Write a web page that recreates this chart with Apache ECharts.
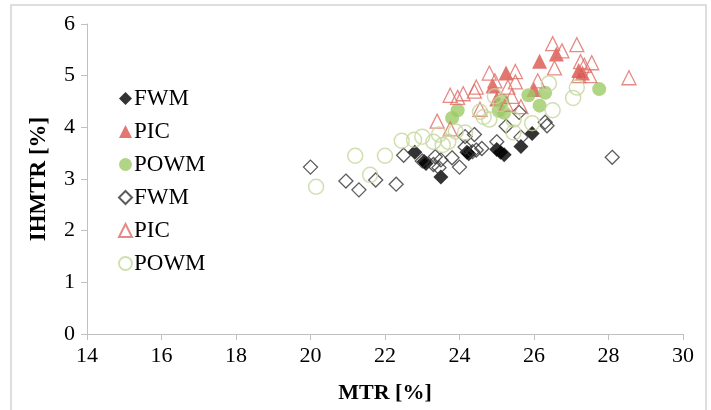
<!DOCTYPE html>
<html>
<head>
<meta charset="utf-8">
<script src="https://cdn.jsdelivr.net/npm/echarts@6/dist/echarts.min.js"></script>
<style>html,body{margin:0;padding:0;background:#fff}#c{width:711px;height:410px}</style>
</head>
<body>
<div id="c"></div>
<script>
// Data: [MTR %, IHMTR %]
var fwmFilled = [[22.8,3.52],[23.05,3.34],[23.1,3.30],[23.5,3.04],[24.2,3.52],[24.25,3.49],[25.0,3.57],[25.1,3.52],[25.2,3.47],[25.65,3.63],[25.95,3.88]];
var picFilled = [[24.9,4.8],[25.0,4.55],[25.25,5.05],[26.0,4.73],[26.15,5.28],[26.6,5.42],[27.2,5.1],[27.3,5.05]];
var powmFilled = [[23.8,4.18],[23.95,4.33],[25.05,4.32],[25.15,4.52],[25.2,4.28],[25.85,4.62],[26.15,4.42],[26.3,4.67],[27.75,4.74]];
var fwmHollow = [[20.0,3.23],[20.95,2.96],[21.3,2.79],[21.75,2.98],[22.3,2.9],[22.5,3.46],[23.0,3.35],[23.3,3.28],[23.35,3.43],[23.45,3.22],[23.5,3.37],[23.8,3.41],[24.0,3.23],[24.15,3.82],[24.15,3.62],[24.35,3.53],[24.4,3.86],[24.45,3.56],[24.6,3.59],[25.0,3.72],[25.25,4.02],[25.6,4.29],[25.65,3.81],[26.3,4.1],[26.35,4.03],[28.1,3.42]];
var picHollow = [[23.4,4.12],[23.75,4.62],[23.75,3.97],[23.95,4.58],[24.1,4.65],[24.4,4.7],[24.45,4.78],[24.55,4.35],[24.8,5.05],[24.95,4.9],[25.3,4.78],[25.5,5.08],[25.5,4.88],[25.4,4.6],[25.25,4.45],[25.65,4.4],[26.1,4.9],[26.5,5.62],[26.75,5.48],[26.55,5.15],[27.15,5.6],[27.25,5.27],[27.35,5.2],[27.55,5.25],[27.2,5.0],[27.5,5.0],[28.55,4.96]];
var powmHollow = [[20.15,2.85],[21.2,3.45],[21.6,3.08],[22.0,3.45],[22.45,3.74],[22.78,3.76],[23.0,3.82],[23.3,3.72],[23.45,3.86],[23.55,3.66],[23.7,3.72],[23.9,3.92],[24.15,3.9],[24.55,4.3],[24.65,4.2],[24.8,4.15],[24.95,4.6],[25.1,4.45],[25.45,4.15],[25.45,3.9],[25.95,4.08],[26.4,4.85],[26.5,4.33],[27.05,4.57],[27.15,4.77]];
var xTicks = {min: 14, max: 30, interval: 2};
var yTicks = {min: 0, max: 6, interval: 1};
var seriesNames = ['FWM', 'PIC', 'POWM', 'FWM ', 'PIC ', 'POWM '];

var font = '"Liberation Serif", "Times New Roman", serif';
var chart = echarts.init(document.getElementById('c'), null, {renderer: 'canvas'});
var axisGray = '#c0c0c0';
function sc(name, data, symbol, size, style, z) {
  return {type: 'scatter', name: name, data: data, symbol: symbol, symbolSize: size,
    itemStyle: style, z: z, emphasis: {disabled: true}, animation: false};
}
chart.setOption({
  animation: false,
  graphic: [{type: 'rect', shape: {x: 11, y: 5, width: 695, height: 420},
    style: {fill: 'none', stroke: '#d3d3d3', lineWidth: 1.5}, silent: true}],
  grid: {left: 87, right: 28, top: 24, bottom: 76},
  legend: {
    orient: 'vertical', left: 113, top: 82, itemGap: 10, itemWidth: 13, itemHeight: 13,
    data: seriesNames,
    textStyle: {fontFamily: font, fontSize: 23, color: '#000', padding: [0, 0, 0, -3]}
  },
  xAxis: {
    type: 'value', min: xTicks.min, max: xTicks.max, interval: xTicks.interval,
    name: 'MTR [%]', nameLocation: 'middle', nameGap: 48,
    nameTextStyle: {fontFamily: font, fontSize: 22, fontWeight: 'bold', color: '#000'},
    axisLine: {show: true, lineStyle: {color: axisGray, width: 1}},
    axisTick: {show: true, inside: false, length: 6, lineStyle: {color: axisGray}},
    axisLabel: {fontFamily: font, fontSize: 22, color: '#000', margin: 11},
    splitLine: {show: false}
  },
  yAxis: {
    type: 'value', min: yTicks.min, max: yTicks.max, interval: yTicks.interval,
    name: 'IHMTR [%]', nameLocation: 'middle', nameGap: 36,
    nameTextStyle: {fontFamily: font, fontSize: 23, fontWeight: 'bold', color: '#000'},
    axisLine: {show: true, lineStyle: {color: axisGray, width: 1}},
    axisTick: {show: true, inside: false, length: 6, lineStyle: {color: axisGray}},
    axisLabel: {fontFamily: font, fontSize: 22, color: '#000', margin: 12},
    splitLine: {show: false}
  },
  series: [
    sc(seriesNames[0], fwmFilled, 'diamond', 15, {color: '#000000'}, 2),
    sc(seriesNames[1], picFilled, 'triangle', 15, {color: '#d9554c'}, 2),
    sc(seriesNames[2], powmFilled, 'circle', 14, {color: '#9ccb66'}, 2),
    sc(seriesNames[3], fwmHollow, 'diamond', 14, {color: 'rgba(255,255,255,0)', borderColor: '#333333', borderWidth: 1.3}, 3),
    sc(seriesNames[4], picHollow, 'triangle', 14, {color: 'rgba(255,255,255,0)', borderColor: '#df6d67', borderWidth: 1.3}, 3),
    sc(seriesNames[5], powmHollow, 'circle', 15, {color: 'rgba(255,255,255,0)', borderColor: '#c5d79c', borderWidth: 1.5}, 3)
  ]
});
</script>
</body>
</html>
